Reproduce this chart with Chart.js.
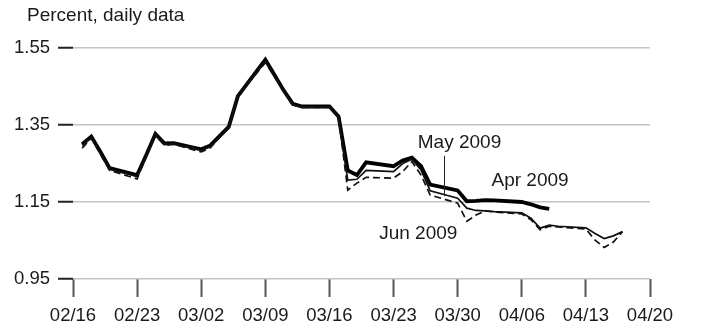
<!DOCTYPE html>
<html>
<head>
<meta charset="utf-8">
<script src="https://cdn.jsdelivr.net/npm/chart.js@4.4.0/dist/chart.umd.min.js"></script>
<style>
  html, body { margin: 0; padding: 0; background: #fff; }
  #wrap { width: 709px; height: 333px; position: relative; }
</style>
</head>
<body>
<div id="wrap"><canvas id="myChart" width="709" height="333"></canvas></div>
<script>
// business days, 2009
const dates = ['02/17','02/18','02/19','02/20','02/23','02/24','02/25','02/26','02/27',
  '03/02','03/03','03/04','03/05','03/06','03/09','03/10','03/11','03/12','03/13',
  '03/16','03/17','03/18','03/19','03/20','03/23','03/24','03/25','03/26','03/27',
  '03/30','03/31','04/01','04/02','04/03','04/06','04/07','04/08','04/09','04/10',
  '04/13','04/14','04/15','04/16','04/17'];

const apr2009 = [1.300,1.320,1.280,1.238,1.220,1.272,1.327,1.302,1.303,
  1.287,1.297,1.321,1.345,1.425,1.520,1.480,1.440,1.405,1.398,
  1.398,1.372,1.232,1.220,1.253,1.243,1.258,1.265,1.243,1.195,
  1.180,1.152,1.153,1.155,1.154,1.150,1.144,1.136,1.132,null,
  null,null,null,null,null];

const may2009 = [1.297,1.318,1.277,1.235,1.216,1.270,1.325,1.300,1.301,
  1.284,1.294,1.320,1.344,1.428,1.515,1.478,1.438,1.403,1.397,
  1.397,1.370,1.207,1.209,1.232,1.229,1.250,1.261,1.233,1.179,
  1.160,1.134,1.128,1.127,1.125,1.122,1.108,1.082,1.090,1.087,
  1.083,1.068,1.055,1.062,1.073];

const jun2009 = [1.290,1.316,1.274,1.232,1.210,1.268,1.323,1.297,1.300,
  1.280,1.291,1.318,1.343,1.426,1.512,1.476,1.437,1.402,1.396,
  1.396,1.369,1.181,1.199,1.214,1.212,1.229,1.255,1.220,1.168,
  1.147,1.100,1.116,1.127,1.124,1.119,1.104,1.078,1.087,1.085,
  1.080,1.051,1.032,1.046,1.073];

const tickLabels = ['02/16','02/23','03/02','03/09','03/16','03/23','03/30','04/06','04/13','04/20'];
const yTicks = [0.95, 1.15, 1.35, 1.55];

// days since 02/16
function dayOf(s) {
  const p = s.split('/');
  const d = new Date(2009, +p[0] - 1, +p[1]);
  return Math.round((d - new Date(2009, 1, 16)) / 86400000);
}
function toPoints(vals) {
  return dates.map((s, i) => ({ x: dayOf(s), y: vals[i] }));
}

const FONT = 'Liberation Sans, Arial, sans-serif';

const labelsPlugin = {
  id: 'labels',
  afterDraw(chart) {
    const ctx = chart.ctx;
    const xs = chart.scales.x, ys = chart.scales.y;
    ctx.save();
    ctx.fillStyle = '#1a1a1a';
    ctx.font = '19px ' + FONT;
    ctx.textAlign = 'left';
    ctx.textBaseline = 'middle';
    ctx.fillText('Percent, daily data', 27, 16);

    ctx.font = '19px ' + FONT;
    ctx.textAlign = 'center';
    ctx.fillText('May 2009', xs.getPixelForValue(42.2), ys.getPixelForValue(1.303));
    ctx.fillText('Apr 2009', xs.getPixelForValue(49.9), ys.getPixelForValue(1.205));
    ctx.fillText('Jun 2009', xs.getPixelForValue(37.7), ys.getPixelForValue(1.067));

    // leader line for May
    ctx.strokeStyle = '#222';
    ctx.lineWidth = 1;
    ctx.beginPath();
    const lx = Math.round(xs.getPixelForValue(40.5)) + 0.5;
    ctx.moveTo(lx, ys.getPixelForValue(1.270));
    ctx.lineTo(lx, ys.getPixelForValue(1.165));
    ctx.stroke();
    ctx.restore();
  }
};

const ctx = document.getElementById('myChart').getContext('2d');
const myChart = new Chart(ctx, {
  type: 'line',
  data: {
    datasets: [
      { label: 'Jun 2009', data: toPoints(jun2009), borderColor: '#111', borderWidth: 1.7,
        borderDash: [7, 4], pointRadius: 0, tension: 0 },
      { label: 'May 2009', data: toPoints(may2009), borderColor: '#111', borderWidth: 1.7,
        pointRadius: 0, tension: 0 },
      { label: 'Apr 2009', data: toPoints(apr2009), borderColor: '#000', borderWidth: 3.8,
        pointRadius: 0, tension: 0 }
    ]
  },
  options: {
    responsive: false,
    animation: false,
    layout: { padding: { top: 48, right: 59, bottom: 0, left: 0 } },
    plugins: { legend: { display: false }, tooltip: { enabled: false } },
    scales: {
      x: {
        type: 'linear',
        min: 0,
        max: 63,
        afterFit(scale) { scale.height = 54; },
        afterBuildTicks(scale) {
          scale.ticks = tickLabels.map((t, i) => ({ value: i * 7 }));
        },
        ticks: {
          color: '#1a1a1a',
          font: { family: FONT, size: 18.5 },
          padding: 8,
          maxRotation: 0,
          autoSkip: false,
          callback: (v) => tickLabels[Math.round(v / 7)]
        },
        grid: { drawOnChartArea: false, drawTicks: true, tickLength: 18, tickColor: '#555', tickWidth: 2 },
        border: { display: false }
      },
      y: {
        min: 0.95,
        max: 1.55,
        afterFit(scale) { scale.width = 73; },
        afterBuildTicks(scale) {
          scale.ticks = yTicks.map(v => ({ value: v }));
        },
        ticks: {
          color: '#1a1a1a',
          font: { family: FONT, size: 18.5 },
          padding: 8,
          callback: (v) => v.toFixed(2)
        },
        grid: { color: '#c4c4c4', lineWidth: 1.5, tickLength: 15, tickColor: '#222', tickWidth: 2 },
        border: { display: false }
      }
    }
  },
  plugins: [labelsPlugin]
});
</script>
</body>
</html>
